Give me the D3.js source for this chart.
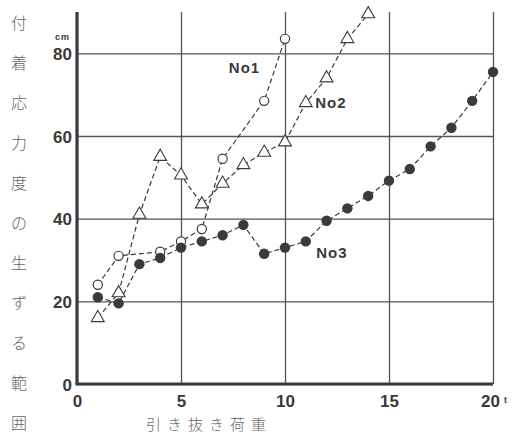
<!DOCTYPE html>
<meta charset="utf-8">
<script src="https://d3js.org/d3.v7.min.js"></script>
<style>
  body { margin: 0; background: #fff; }
</style>
<div id="chart"></div>
<script>
// data
const no1X = [1, 2, 4, 5, 6, 7, 9, 10];
const no1Y = [24, 31, 32, 34.5, 37.5, 54.5, 68.5, 83.5];
const no2X = [1, 2, 3, 4, 5, 6, 7, 8, 9, 10, 11, 12, 13, 14];
const no2Y = [16, 22, 41, 55, 50.5, 43.5, 48.5, 53, 56, 58.5, 68, 74, 83.5, 89.5];
const no3X = [1, 2, 3, 4, 5, 6, 7, 8, 9, 10, 11, 12, 13, 14, 15, 16, 17, 18, 19, 20];
const no3Y = [21, 19.5, 29, 30.5, 33, 34.5, 36, 38.5, 31.5, 33, 34.5, 39.5, 42.5, 45.5, 49.2, 52, 57.5, 62, 68.5, 75.5];
const xTicks = [0, 5, 10, 15, 20];
const yTicks = [0, 20, 40, 60, 80];
const yTitle = ["付", "着", "応", "力", "度", "の", "生", "ず", "る", "範", "囲"];
const xTitle = "引き抜き荷重";

const W = 517, H = 436;
const margin = {top: 12, right: 24, bottom: 52, left: 77};
const width = W - margin.left - margin.right,
      height = H - margin.top - margin.bottom;
const ink = "#3a3a3a";

const svg = d3.select("#chart").append("svg")
    .attr("width", W).attr("height", H)
  .append("g")
    .attr("transform", `translate(${margin.left},${margin.top})`);

const x = d3.scaleLinear().domain([0, 20]).range([0, width]);
const y = d3.scaleLinear().domain([0, 90]).range([height, 0]);

// grid + tick labels
const gx = svg.append("g")
    .attr("transform", `translate(0,${height})`)
    .call(d3.axisBottom(x).tickValues(xTicks).tickSize(-height).tickPadding(7));
const gy = svg.append("g")
    .call(d3.axisLeft(y).tickValues(yTicks).tickSize(-width).tickPadding(5));
[gx, gy].forEach(g => {
  g.select(".domain").remove();
  g.selectAll(".tick line").attr("stroke", "#555").attr("stroke-width", 1.3);
  g.selectAll(".tick text")
    .attr("fill", ink)
    .style("font-family", "Liberation Sans, Arial, sans-serif")
    .style("font-weight", "bold")
    .style("font-size", "17px");
});
gx.selectAll(".tick text").attr("dy", "0.95em");
gx.selectAll(".tick").filter(d => d === 20).select("text").attr("dx", "-3");
gy.selectAll(".tick text").attr("dy", "0.36em");

// units
svg.append("text").attr("x", x(20) + 11).attr("y", height + 19)
  .attr("fill", ink).style("font", "bold 9px Liberation Sans, Arial, sans-serif").text("t");
svg.append("text").attr("x", -7).attr("y", y(80) - 13).attr("text-anchor", "end")
  .attr("fill", ink).style("font", "bold 9px Liberation Sans, Arial, sans-serif")
  .attr("letter-spacing", "1px").text("cm");

// thick axes
svg.append("line").attr("x1", 0).attr("x2", 0).attr("y1", 0).attr("y2", height)
  .attr("stroke", ink).attr("stroke-width", 3.2);
svg.append("line").attr("x1", -1.5).attr("x2", width).attr("y1", height).attr("y2", height)
  .attr("stroke", ink).attr("stroke-width", 3.2);

// series
const line = d3.line().x(d => x(d[0])).y(d => y(d[1]));
function series(xs, ys) { return xs.map((v, i) => [v, ys[i]]); }
const s1 = series(no1X, no1Y), s2 = series(no2X, no2Y), s3 = series(no3X, no3Y);

[s1, s2, s3].forEach(s => {
  svg.append("path").datum(s)
    .attr("fill", "none").attr("stroke", ink)
    .attr("stroke-width", 1.2).attr("stroke-dasharray", "5,3")
    .attr("d", line);
});

svg.append("g").selectAll("circle").data(s1).join("circle")
  .attr("cx", d => x(d[0])).attr("cy", d => y(d[1])).attr("r", 4.6)
  .attr("fill", "#fff").attr("stroke", ink).attr("stroke-width", 1.2);

svg.append("g").selectAll("path").data(s2).join("path")
  .attr("transform", d => `translate(${x(d[0])},${y(d[1])})`)
  .attr("d", d3.symbol(d3.symbolTriangle, 72))
  .attr("fill", "#fff").attr("stroke", ink).attr("stroke-width", 1.1);

svg.append("g").selectAll("circle").data(s3).join("circle")
  .attr("cx", d => x(d[0])).attr("cy", d => y(d[1])).attr("r", 5.2)
  .attr("fill", ink);

// series names
const lab = [["No1", 7.3, 76.6], ["No2", 11.45, 68], ["No3", 11.5, 31.9]];
svg.append("g").selectAll("text").data(lab).join("text")
  .attr("x", d => x(d[1])).attr("y", d => y(d[2]))
  .attr("dy", "0.36em")
  .attr("fill", ink)
  .style("font", "bold 15px Liberation Sans, Arial, sans-serif")
  .attr("letter-spacing", "1px")
  .text(d => d[0]);

// axis titles
d3.select("svg").append("g").selectAll("text").data(yTitle).join("text")
  .attr("x", 19).attr("y", (d, i) => 23 + i * 40)
  .attr("dy", "0.36em").attr("text-anchor", "middle")
  .attr("fill", "#666")
  .style("font", "300 16px 'Noto Sans CJK JP', sans-serif")
  .text(d => d);

d3.select("svg").append("text")
  .attr("x", 146).attr("y", 425).attr("dy", "0.36em")
  .attr("fill", "#666")
  .attr("letter-spacing", "6px")
  .style("font", "300 15px 'Noto Sans CJK JP', sans-serif")
  .text(xTitle);
</script>
